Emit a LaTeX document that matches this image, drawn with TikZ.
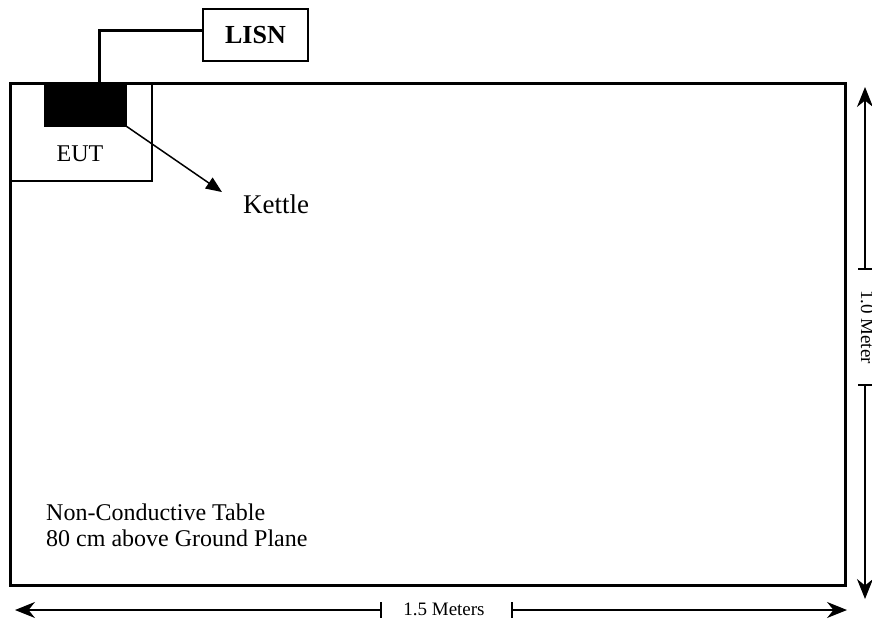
\documentclass[tikz,border=0pt]{standalone}
\usepackage{fontspec}
\setmainfont{Liberation Serif}
\usetikzlibrary{arrows.meta}
\begin{document}
\begin{tikzpicture}[x=1pt,y=-1pt,>={Stealth[length=20pt,width=16pt]},box/.style={draw,rectangle,inner sep=0pt,outer sep=0pt},txt/.style={inner sep=0pt,font=\fontsize{24}{28}\selectfont},dimtxt/.style={inner sep=0pt,font=\fontsize{19}{22}\selectfont},dim/.style={line width=1.2pt}]

            \useasboundingbox (0,0) rectangle (872,624);

            \node[box, line width=3pt, minimum width=835pt, minimum height=502pt] (table) at (427.5,334) {};
            \node[box, line width=1.2pt, minimum width=142pt, minimum height=98pt, anchor=north west] (eut) at (table.north west) {};
            \node[box, fill=black, minimum width=82pt, minimum height=42pt, anchor=north west] (kettle) at (44,84) {};
            \node[box, line width=1.2pt, minimum width=105pt, minimum height=52pt] (lisn) at (255.5,35) {\fontsize{26}{30}\selectfont\bfseries LISN};

            \node[txt, anchor=base] (euttext) at (80,161) {EUT};
            \node[txt, font=\fontsize{27}{31}\selectfont, anchor=base west] (kettletext) at (243,213) {Kettle};
            \node[txt, anchor=base west] (note1) at (46,520) {Non-Conductive Table};
            \node[txt, anchor=base west] (note2) at (46,546) {80 cm above Ground Plane};
            \node[dimtxt, anchor=base] (widthtext) at (444,615) {1.5 Meters};
            \node[dimtxt, rotate=-90, anchor=base] (heighttext) at (861,327) {1.0 Meter};

            \coordinate (wl) at (15,610);
            \coordinate (wa) at (381,610);
            \coordinate (wb) at (512,610);
            \coordinate (wr) at (847,610);
            \coordinate (htop) at (865,87);
            \coordinate (ha) at (865,269);
            \coordinate (hb) at (865,385);
            \coordinate (hbot) at (865,599);

            \draw[line width=3pt] ([xshift=14pt]kettle.north) |- ([yshift=5pt]lisn.west);
            \draw[line width=1.5pt, -{Triangle[length=16pt,width=13pt]}] (kettle.south east) -- ([xshift=-21pt,yshift=2pt]kettletext.north west);

            \draw[dim,->] (wa) -- (wl);
            \draw[dim,->] (wb) -- (wr);
            \draw[dim] ([yshift=8pt]wa) -- ([yshift=-8pt]wa);
            \draw[dim] ([yshift=8pt]wb) -- ([yshift=-8pt]wb);
            \draw[dim,->] (ha) -- (htop);
            \draw[dim,->] (hb) -- (hbot);
            \draw[dim] ([xshift=-7pt]ha) -- ([xshift=7pt]ha);
            \draw[dim] ([xshift=-7pt]hb) -- ([xshift=7pt]hb);

            ;
        \end{tikzpicture}
\end{document}
